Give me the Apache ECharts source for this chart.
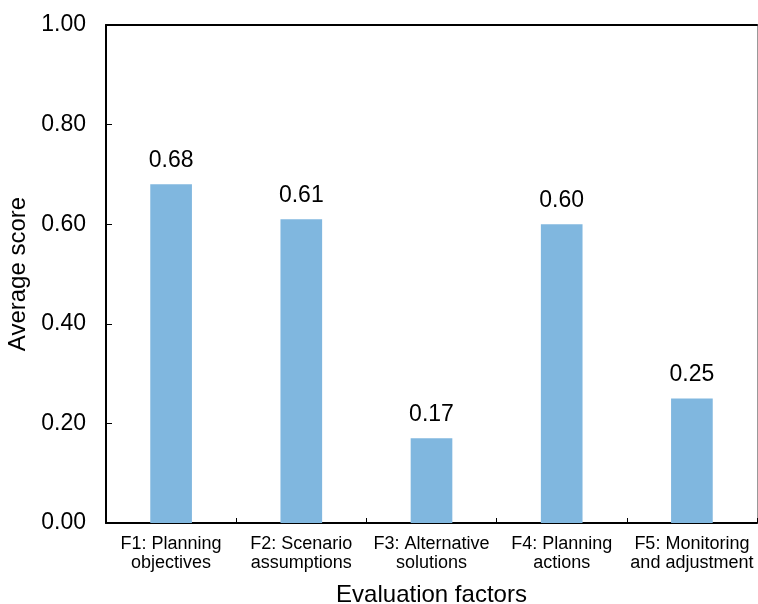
<!DOCTYPE html>
<html>
<head>
<meta charset="utf-8">
<script src="https://cdn.jsdelivr.net/npm/echarts@6/dist/echarts.min.js"></script>
<style>
  html, body { margin: 0; padding: 0; background: #fff; }
  #chart { width: 758px; height: 604px; }
</style>
</head>
<body>
<div id="chart"></div>
<script>
// Evaluation factors and their average scores
const factors = [
  'F1: Planning\nobjectives',
  'F2: Scenario\nassumptions',
  'F3: Alternative\nsolutions',
  'F4: Planning\nactions',
  'F5: Monitoring\nand adjustment'
];
const scores = [0.68, 0.61, 0.17, 0.60, 0.25];
const yTicks = { min: 0, max: 1, interval: 0.2 };

const font = 'Liberation Sans, Arial, sans-serif';
const chart = echarts.init(document.getElementById('chart'), null, { renderer: 'canvas' });

chart.setOption({
  animation: false,
  grid: {
    left: 106, top: 25, right: 1, bottom: 81,
    containLabel: false,
    outerBoundsMode: 'none'
  },
  xAxis: [
    {
      type: 'category',
      data: factors,
      name: 'Evaluation factors',
      nameLocation: 'middle',
      nameGap: 60,
      nameTextStyle: { fontFamily: font, fontSize: 24, color: '#000' },
      axisLine: { onZero: false, lineStyle: { color: '#000', width: 2 } },
      axisTick: { show: true, inside: true, length: 5, lineStyle: { color: '#000', width: 1 } },
      axisLabel: {
        fontFamily: font, fontSize: 18, color: '#000', margin: 12, lineHeight: 19,
        interval: 0
      },
      splitLine: { show: false }
    },
    {
      // frame line along the top of the plot
      type: 'category',
      position: 'top',
      data: factors,
      axisLine: { onZero: false, lineStyle: { color: '#000', width: 2 } },
      axisTick: { show: false },
      axisLabel: { show: false }
    }
  ],
  yAxis: [
    {
      type: 'value',
      min: yTicks.min,
      max: yTicks.max,
      interval: yTicks.interval,
      name: 'Average score',
      nameLocation: 'middle',
      nameGap: 74,
      nameTextStyle: { fontFamily: font, fontSize: 24, color: '#000' },
      axisLine: { show: true, onZero: false, lineStyle: { color: '#000', width: 2 } },
      axisTick: { show: true, inside: true, length: 6, lineStyle: { color: '#000', width: 1 } },
      axisLabel: {
        fontFamily: font, fontSize: 23, color: '#000', margin: 20,
        formatter: v => v.toFixed(2)
      },
      splitLine: { show: false }
    },
    {
      // thin frame line on the right
      type: 'value',
      position: 'right',
      min: yTicks.min,
      max: yTicks.max,
      interval: yTicks.interval,
      axisLine: { show: true, onZero: false, lineStyle: { color: '#999', width: 1 } },
      axisTick: { show: false },
      axisLabel: { show: false },
      splitLine: { show: false }
    }
  ],
  series: [
    {
      type: 'bar',
      data: scores,
      barWidth: '32%',
      itemStyle: { color: '#80B7DF' },
      label: {
        show: true,
        position: 'top',
        distance: 12,
        fontFamily: font,
        fontSize: 23,
        color: '#000',
        formatter: p => p.value.toFixed(2)
      }
    }
  ]
});
</script>
</body>
</html>
